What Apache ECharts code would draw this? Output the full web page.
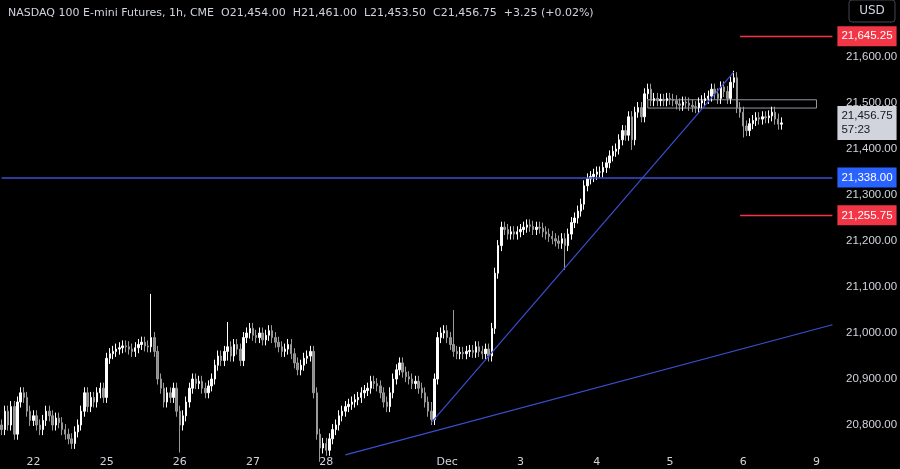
<!DOCTYPE html>
<html>
<head>
<meta charset="utf-8">
<script src="https://cdn.jsdelivr.net/npm/echarts@6/dist/echarts.min.js"></script>
<style>html,body{margin:0;padding:0;background:#000;}#chart{width:900px;height:469px;}</style>
</head>
<body>
<div id="chart"></div>
<script>
// hourly closes, day by day
var seg21 = [20790,20830,20800,20840,20780,20850,20870,20860,20830,20810,20820,20800,20790,20810,20830,20820,20800,20815,20805,20790,20780,20770,20760,20785,20800,20830,20870,20840,20860,20850,20870,20880,20860];
var seg25 = [20945,20955,20960,20965,20968,20972,20970,20965,20960,20968,20975,20980,20972,20970,20990,20960,20900,20880,20850,20870,20860,20880,20830,20800];
var seg26 = [20820,20850,20880,20900,20890,20895,20880,20870,20885,20900,20930,20950,20940,20960,20970,20950,20975,20965,20940,20990,21000,21010,20995];
var seg27 = [20990,21000,20985,20995,21005,20990,20980,20970,20960,20965,20975,20955,20935,20920,20930,20945,20950,20960,20870,20780,20750,20760,20745];
var seg28 = [20770,20790,20800,20820,20830,20840,20845,20850,20855,20860,20870,20875,20880,20895,20890,20885,20870,20850,20840,20870,20900,20920,20935,20915,20905,20900,20890,20895,20880,20870,20850,20830,20812];
var segDec = [20900,20990,21000,21005,20990,20975,20960,20955,20958,20955,20960,20962,20958,20970,20960,20955,20965,20950,21010,21130,21190,21230,21225,21215,21220,21215,21220,21225];
var seg3 = [21230,21235,21232,21225,21230,21228,21220,21215,21210,21205,21200,21195,21205,21190,21215,21240,21250,21265,21280,21320,21335,21340,21345,21350];
var seg4 = [21350,21360,21370,21385,21395,21400,21420,21440,21430,21470,21420,21480,21490,21470,21520,21530,21505,21510,21505,21508,21505,21510,21508];
var seg5 = [21505,21498,21495,21502,21500,21495,21492,21490,21500,21505,21510,21515,21530,21520,21510,21535,21525,21510,21545,21555,21490,21480,21450];
var seg6 = [21440,21455,21462,21468,21465,21470,21468,21472,21480,21465,21454,21456.75];
var firstOpen = 20800;
// [index, high, low] for long wicks
var spikes = [[47,21085,20960],[56,20830,20740],[71,21024,20940],[100,20780,20720],[135,20850,20805],[142,21050,20985],[177,21210,21137],[198,21450,21398],[230,21570,21540],[233,21490,21425]];
var dayLabels = ['22','25','26','27','28','Dec','3','4','5','6','9'];
var dayLabelIdx = [10,33,56,79,102,140,163,187,210,233,256];
var totalSlots = 262;
var supportLevel = 21338.00;
var redLevels = [21645.25, 21255.75];
var lastPrice = 21456.75;
var zone = [21489, 21507];

var closes = [].concat(seg21, seg25, seg26, seg27, seg28, segDec, seg3, seg4, seg5, seg6);
var ohlc = [];
var prev = firstOpen;
closes.forEach(function(c, i){
    ohlc.push([prev, c, Math.min(prev, c) - 12, Math.max(prev, c) + 12]);
    prev = c;
});
spikes.forEach(function(s){
    ohlc[s[0]][3] = Math.max(ohlc[s[0]][3], s[1]);
    ohlc[s[0]][2] = Math.min(ohlc[s[0]][2], s[2]);
});
var cats = [];
for (var i = 0; i < totalSlots; i++) {
    var k = dayLabelIdx.indexOf(i);
    cats.push(k >= 0 ? dayLabels[k] : '');
}
function fmt(v){
    return v.toLocaleString('en-US', {minimumFractionDigits: 2, maximumFractionDigits: 2});
}
var FONT = 'Liberation Sans';
function axisBox(text, bg, fg){
    return {show: true, position: 'end', distance: 5, formatter: text, color: fg || '#fff',
            backgroundColor: bg, padding: [3, 4], fontSize: 11.5, lineHeight: 14, fontFamily: FONT};
}

var chart = echarts.init(document.getElementById('chart'));
var option = {
    backgroundColor: '#000000',
    animation: false,
    title: {
        text: 'NASDAQ 100 E-mini Futures, 1h, CME  O21,454.00  H21,461.00  L21,453.50  C21,456.75  +3.25 (+0.02%)',
        left: 3, top: 3,
        textStyle: {color: '#d1d4dc', fontSize: 11, fontWeight: 'normal', fontFamily: 'DejaVu Sans'}
    },
    graphic: [{
        type: 'rect', shape: {x: 849, y: 0, width: 46, height: 22, r: 3},
        style: {fill: '#000', stroke: '#434651', lineWidth: 1}
    }, {
        type: 'text', x: 872, y: 11,
        style: {text: 'USD', fill: '#d1d4dc', fontSize: 12, align: 'center', verticalAlign: 'middle', fontFamily: 'DejaVu Sans'}
    }],
    grid: {left: 0, right: 66, top: 11, bottom: -2, outerBoundsMode: 'none', containLabel: false},
    xAxis: {
        type: 'category', data: cats, boundaryGap: true,
        axisLine: {show: false}, axisTick: {show: false}, splitLine: {show: false},
        axisLabel: {inside: true, interval: 0, color: '#d1d4dc', fontSize: 11, margin: 3, verticalAlign: 'bottom',
            fontFamily: 'DejaVu Sans'}
    },
    yAxis: {
        type: 'value', position: 'right', min: 20700, max: 21700, interval: 100, scale: true,
        axisLine: {show: false}, axisTick: {show: false}, splitLine: {show: false},
        axisLabel: {color: '#d1d4dc', fontSize: 11.5, margin: 12, fontFamily: FONT,
            formatter: function(v){ return (v > 20700 && v < 21700) ? fmt(v) : ''; }}
    },
    series: [{
        type: 'candlestick', data: ohlc, barWidth: '60%', clip: true,
        itemStyle: {color: '#ffffff', color0: '#8a8a8a', borderColor: '#ffffff', borderColor0: '#9a9a9a', borderWidth: 1},
        markArea: {
            silent: true,
            itemStyle: {color: 'rgba(0,0,0,0)', borderColor: '#9598a1', borderWidth: 1},
            data: [[{coord: [203, zone[1]]}, {coord: [256, zone[0]]}]]
        },
        markLine: {
            silent: true, symbol: 'none',
            data: [
                [{coord: [0, supportLevel], lineStyle: {color: '#3a4fd0', width: 1.5, type: 'solid', opacity: 1}},
                 {coord: [totalSlots - 1, supportLevel], label: axisBox(fmt(supportLevel), '#2962ff')}],
                [{coord: [232, redLevels[0]], lineStyle: {color: '#f23645', width: 1.3, type: 'solid'}},
                 {coord: [totalSlots - 1, redLevels[0]], label: axisBox(fmt(redLevels[0]), '#f23645')}],
                [{coord: [232, redLevels[1]], lineStyle: {color: '#f23645', width: 1.3, type: 'solid'}},
                 {coord: [totalSlots - 1, redLevels[1]], label: axisBox(fmt(redLevels[1]), '#f23645')}],
                [{coord: [totalSlots - 2, lastPrice], lineStyle: {color: 'rgba(0,0,0,0)', width: 1}},
                 {coord: [totalSlots - 1, lastPrice], label: axisBox(fmt(lastPrice) + '\n57:23', '#d1d4dc', '#131722')}],
                [{coord: [135, 20805], lineStyle: {color: '#3a4fd0', width: 1.2, type: 'solid'}},
                 {coord: [230, 21567]}],
                [{coord: [108, 20735], lineStyle: {color: '#3a4fd0', width: 1.2, type: 'solid'}},
                 {coord: [totalSlots - 1, 21018]}]
            ]
        }
    }]
};
chart.setOption(option);
</script>
</body>
</html>
